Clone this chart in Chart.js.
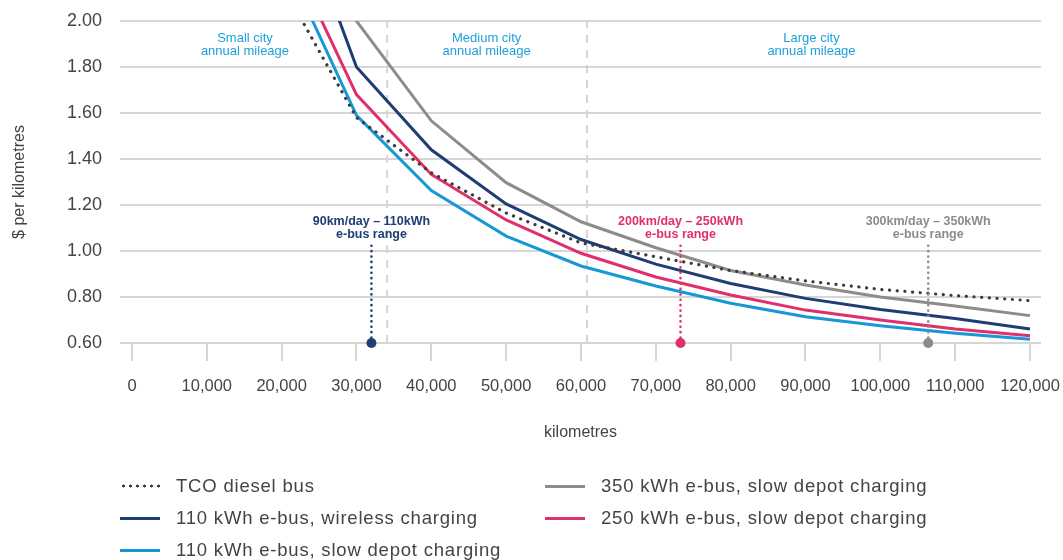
<!DOCTYPE html>
<html>
<head>
<meta charset="utf-8">
<script src="https://cdn.jsdelivr.net/npm/chart.js@4.4.1/dist/chart.umd.min.js"></script>
<style>
body { margin: 0; background: #fff; }
#wrap { position: relative; width: 1063px; height: 560px; }
#legend { position: absolute; left: 0; top: 0; width: 1063px; height: 560px; pointer-events: none;
  font-family: "Liberation Sans", Arial, sans-serif; font-size: 18.5px; letter-spacing: 0.8px; color: #444; }
.item { position: absolute; display: flex; align-items: center; white-space: nowrap; height: 24px; }
.swatch { width: 40px; height: 3px; margin-right: 16px; }
.dots { height: 4px; background-image: radial-gradient(circle, #3c3c3c 1.3px, transparent 1.7px); background-size: 7px 4px; }
</style>
</head>
<body>
<div id="wrap">
<canvas id="busChart" width="1063" height="560"></canvas>
<div id="legend"></div>
</div>
<script>
// kilometres travelled per year
var km = [20000, 30000, 40000, 50000, 60000, 70000, 80000, 90000, 100000, 110000, 120000];

// $ per km for each option
var dieselTCO   = [2.16, 1.58, 1.34, 1.165, 1.035, 0.975, 0.915, 0.870, 0.833, 0.806, 0.784];
var wireless110 = [2.68, 1.80, 1.44, 1.205, 1.050, 0.943, 0.859, 0.794, 0.746, 0.707, 0.661];
var depot110    = [2.29, 1.59, 1.263, 1.065, 0.935, 0.848, 0.773, 0.714, 0.675, 0.642, 0.616];
var depot250    = [2.37, 1.68, 1.333, 1.135, 0.990, 0.887, 0.809, 0.743, 0.700, 0.661, 0.632];
var depot350    = [2.80, 2.00, 1.566, 1.297, 1.127, 1.014, 0.915, 0.852, 0.800, 0.761, 0.719];

var seriesNames = ['TCO diesel bus', '110 kWh e-bus, wireless charging', '110 kWh e-bus, slow depot charging',
                   '350 kWh e-bus, slow depot charging', '250 kWh e-bus, slow depot charging'];

// tick labels
var xTicks = [0, 10000, 20000, 30000, 40000, 50000, 60000, 70000, 80000, 90000, 100000, 110000, 120000];
var yTicks = [0.6, 0.8, 1.0, 1.2, 1.4, 1.6, 1.8, 2.0];

// city size boundaries (km) and labels
var cityBounds = [34100, 60800];
var cityLabelKm = [15100, 47400, 90800];
var cityLabels = [['Small city', 'annual mileage'], ['Medium city', 'annual mileage'], ['Large city', 'annual mileage']];

// e-bus range markers
var rangeKm = [32000, 73300, 106400];
var rangeTop = 1.03;
var rangeLabels = [['90km/day \u2013 110kWh', 'e-bus range'], ['200km/day \u2013 250kWh', 'e-bus range'], ['300km/day \u2013 350kWh', 'e-bus range']];

var NAVY = '#1f3d72', LBLUE = '#1798d5', PINK = '#e0306c', GREY = '#8f8b88', DIESEL = '#3c3c3c';
var rangeColors = [NAVY, PINK, GREY];
var labelBlue = '#1fa0da';
var gridColor = '#d6d6d6';
var FONT = '"Liberation Sans", Arial, sans-serif';

function pts(vals) {
    return vals.map(function (v, i) { return { x: km[i], y: v }; });
}

function curve(label, vals, color, order) {
    return { label: label, data: pts(vals), borderColor: color, borderWidth: 3, pointRadius: 0,
             tension: 0, fill: false, clip: 0, order: order };
}

var datasets = [];
var diesel = curve(seriesNames[0], dieselTCO, DIESEL, 1);
diesel.borderDash = [0.1, 7.6];
diesel.borderCapStyle = 'round';
diesel.borderWidth = 3.2;
datasets.push(diesel);
datasets.push(curve(seriesNames[1], wireless110, NAVY, 3));
datasets.push(curve(seriesNames[2], depot110, LBLUE, 4));
datasets.push(curve(seriesNames[3], depot350, GREY, 5));
datasets.push(curve(seriesNames[4], depot250, PINK, 2));

// dashed separators between city sizes
cityBounds.forEach(function (b) {
    datasets.push({ data: [{ x: b, y: 0.6 }, { x: b, y: 2.0 }], borderColor: gridColor, borderWidth: 2,
                    borderDash: [8, 7], pointRadius: 0, order: 10 });
});

// range markers: dotted stem with a dot on the axis
rangeKm.forEach(function (r, i) {
    datasets.push({ data: [{ x: r, y: 0.6 }, { x: r, y: rangeTop }], borderColor: rangeColors[i], borderWidth: 2.6,
                    borderDash: [0.1, 5.3], borderCapStyle: 'round', pointRadius: [5, 0], pointBorderWidth: 0,
                    pointBackgroundColor: rangeColors[i], clip: false, order: 0 });
});

var textPlugin = {
    id: 'chartText',
    afterDatasetsDraw: function (chart) {
        var ctx = chart.ctx, xs = chart.scales.x, ys = chart.scales.y;
        ctx.save();
        ctx.textAlign = 'center';
        ctx.textBaseline = 'middle';
        ctx.font = '13px ' + FONT;
        ctx.fillStyle = labelBlue;
        var top = ys.getPixelForValue(2.0);
        cityLabels.forEach(function (l, i) {
            var px = xs.getPixelForValue(cityLabelKm[i]);
            ctx.fillText(l[0], px, top + 17);
            ctx.fillText(l[1], px, top + 30);
        });
        ctx.font = 'bold 12.5px ' + FONT;
        rangeLabels.forEach(function (l, i) {
            var px = xs.getPixelForValue(rangeKm[i]);
            var py = ys.getPixelForValue(rangeTop);
            ctx.fillStyle = rangeColors[i];
            ctx.fillText(l[0], px, py - 23);
            ctx.fillText(l[1], px, py - 10);
        });
        ctx.restore();
    }
};

var ctx = document.getElementById('busChart').getContext('2d');
var busChart = new Chart(ctx, {
    type: 'line',
    data: { datasets: datasets },
    plugins: [textPlugin],
    options: {
        responsive: false,
        animation: false,
        layout: { padding: { top: 21, right: 22, bottom: 118, left: 0 } },
        plugins: { legend: { display: false }, tooltip: { enabled: false } },
        scales: {
            x: {
                type: 'linear',
                min: -1600,
                max: 121470,
                afterBuildTicks: function (s) { s.ticks = xTicks.map(function (v) { return { value: v }; }); },
                afterFit: function (s) { s.height = 99; s.paddingRight = 0; s.paddingLeft = 0; },
                ticks: {
                    padding: 16,
                    color: '#444',
                    font: { family: FONT, size: 16.5 },
                    callback: function (v) { return v.toLocaleString('en-US'); }
                },
                grid: { drawOnChartArea: false, drawTicks: true, tickLength: 18, color: gridColor, lineWidth: 2 },
                border: { display: false },
                title: { display: true, text: 'kilometres', color: '#444', padding: 0,
                         font: { family: FONT, size: 16 } }
            },
            y: {
                min: 0.6,
                max: 2.0,
                afterBuildTicks: function (s) { s.ticks = yTicks.map(function (v) { return { value: v }; }); },
                afterFit: function (s) { s.width = 120; s.paddingTop = 0; s.paddingBottom = 0; },
                ticks: {
                    padding: 18,
                    color: '#444',
                    font: { family: FONT, size: 18 },
                    callback: function (v) { return v.toFixed(2); }
                },
                grid: { drawTicks: false, color: gridColor, lineWidth: 2 },
                border: { display: false },
                title: { display: true, text: '$ per kilometres', color: '#444', padding: { top: 10 },
                         font: { family: FONT, size: 16 } }
            }
        }
    }
});

// legend in two columns, built from the series
var legendPos = [[120, 486], [120, 518], [120, 550], [545, 486], [545, 518]];
var legendColors = [DIESEL, NAVY, LBLUE, GREY, PINK];
var legendEl = document.getElementById('legend');
seriesNames.forEach(function (name, i) {
    var item = document.createElement('div');
    item.className = 'item';
    item.style.left = legendPos[i][0] + 'px';
    item.style.top = (legendPos[i][1] - 12) + 'px';
    var sw = document.createElement('div');
    sw.className = 'swatch' + (i === 0 ? ' dots' : '');
    if (i !== 0) sw.style.background = legendColors[i];
    var tx = document.createElement('span');
    tx.textContent = name;
    item.appendChild(sw);
    item.appendChild(tx);
    legendEl.appendChild(item);
});
</script>
</body>
</html>
